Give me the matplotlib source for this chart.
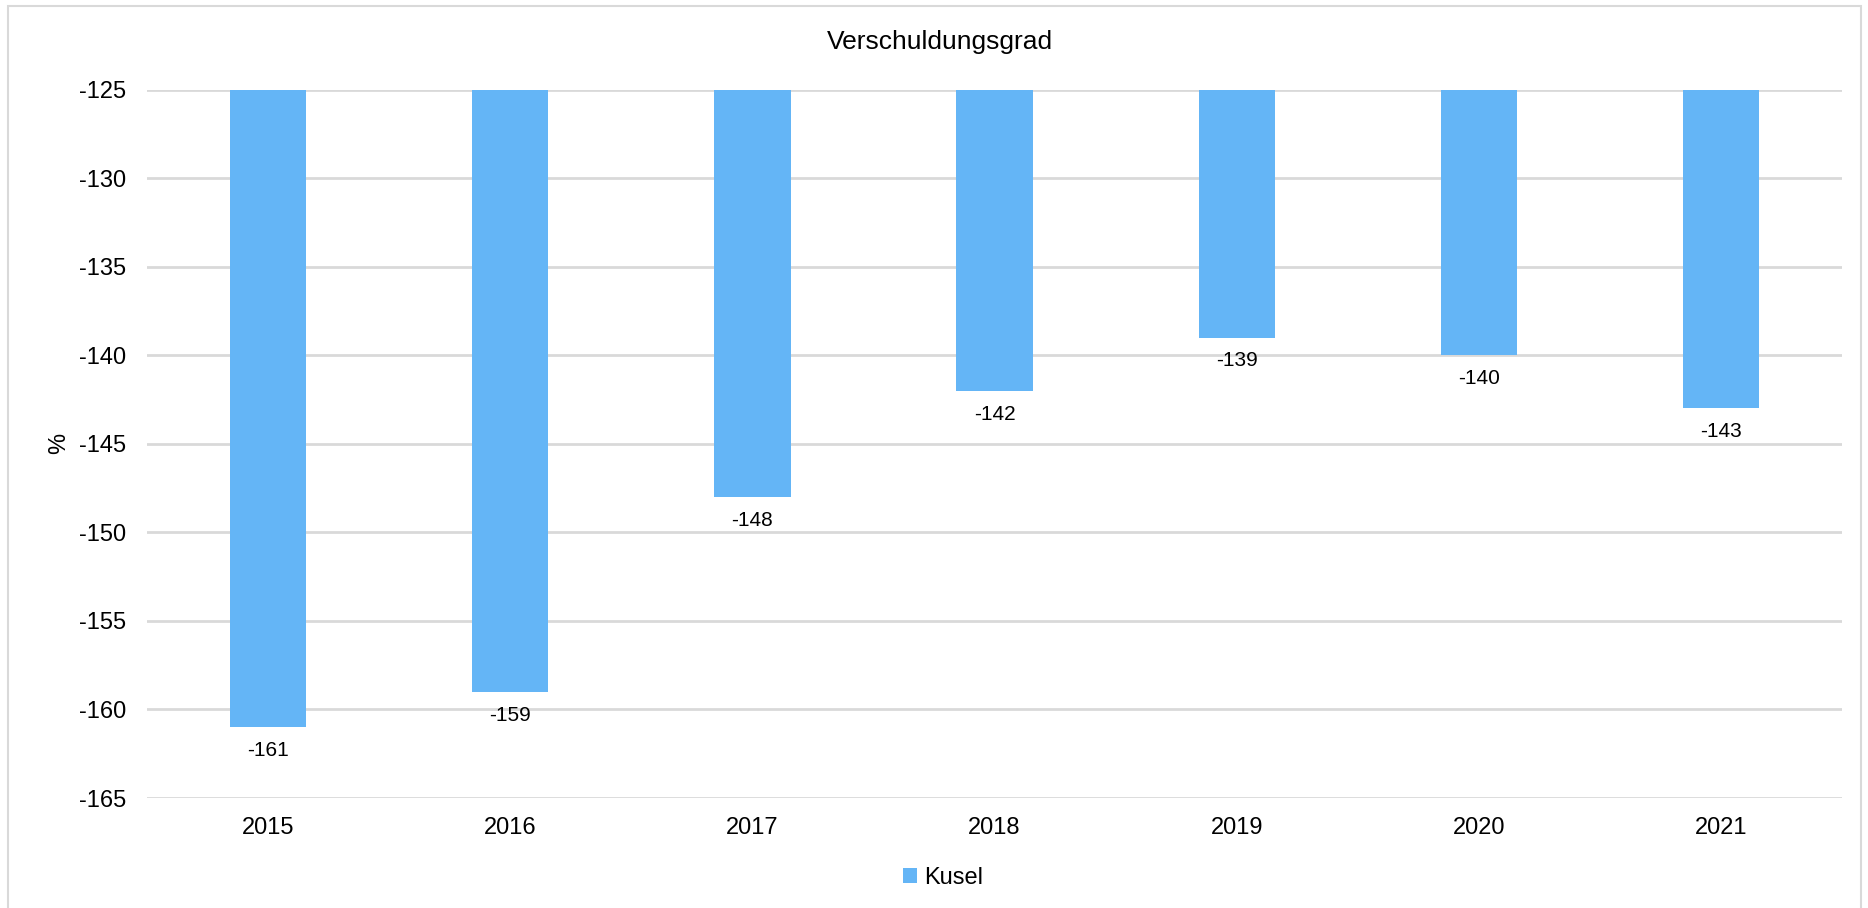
import matplotlib.pyplot as plt
from matplotlib.patches import Rectangle

plt.rcParams['font.family'] = ['Liberation Sans', 'DejaVu Sans']
plt.rcParams['axes.unicode_minus'] = False

years = ['2015', '2016', '2017', '2018', '2019', '2020', '2021']
kusel = [-161, -159, -148, -142, -139, -140, -143]
y_ticks = [-125, -130, -135, -140, -145, -150, -155, -160, -165]

bar_color = '#64B5F6'
grid_color = '#d9d9d9'
base = -125

fig = plt.figure(figsize=(18.68, 9.08), dpi=100)
ax = fig.add_axes([0.0787, 0.1211, 0.9074, 0.7803])

x = range(len(years))
heights = [v - base for v in kusel]
bars = ax.bar(x, heights, bottom=base, width=0.315, color=bar_color, label='Kusel', zorder=3)

# data labels under each bar
for xi, v in zip(x, kusel):
    ax.annotate(str(v), (xi, v), xytext=(0, -10), textcoords='offset points',
                ha='center', va='top', fontsize=15)

ax.set_ylim(-165, -125)
ax.set_xlim(-0.5, len(years) - 0.5)
ax.set_yticks(y_ticks)
ax.set_xticks(list(x))
ax.set_xticklabels(years)
ax.tick_params(axis='both', length=0, labelsize=17)
ax.tick_params(axis='x', pad=14)
ax.tick_params(axis='y', pad=15)
ax.yaxis.grid(True, color=grid_color, linewidth=2, zorder=0)
ax.set_axisbelow(True)
for s in ax.spines.values():
    s.set_visible(False)

ax.set_ylabel('%', fontsize=17, labelpad=6)

fig.text(0.503, 1 - 42 / 908, 'Verschuldungsgrad', ha='center', va='center', fontsize=19)

fig.legend(handles=[bars], labels=['Kusel'], loc='center', bbox_to_anchor=(0.505, 1 - 878 / 908),
           frameon=False, fontsize=17, handlelength=0.6, handleheight=0.6, handletextpad=0.3)

# light outer frame
fig.patches.append(Rectangle((8 / 1868, -0.01), 1853 / 1868, 1 - 5.7 / 908 + 0.01,
                             transform=fig.transFigure, fill=False, edgecolor=grid_color, linewidth=1.5))

fig.savefig('out.png', dpi=100)
